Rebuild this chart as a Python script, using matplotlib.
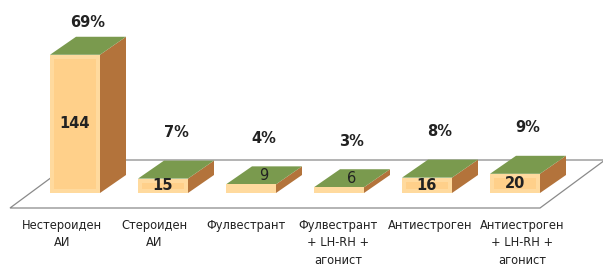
import matplotlib.pyplot as plt
from matplotlib.patches import Polygon

categories = ["Нестероиден\nАИ", "Стероиден\nАИ", "Фулвестрант",
              "Фулвестрант\n+ LH-RH +\nагонист", "Антиестроген",
              "Антиестроген\n+ LH-RH +\nагонист"]
counts = [144, 15, 9, 6, 16, 20]
percents = ["69%", "7%", "4%", "3%", "8%", "9%"]

# pixel scale: 88 px per category, 0.96 px per unit of value
px_x = 88.0
px_y = 0.96
W, H = 603, 269

fig = plt.figure(figsize=(W / 100, H / 100), dpi=100)
ax = fig.add_axes([0, 0, 1, 1])
ax.set_xlim(-75 / px_x, (W - 75) / px_x)
ax.set_ylim(-76 / px_y, (H - 76) / px_y)
ax.axis("off")

bw = 50 / px_x          # bar width
ddx = 26 / px_x         # depth offset
ddy = 18 / px_y

front = "#FFDA9E"
inner = "#FFD08A"
side = "#B3733B"
top = "#7A9A4E"

# floor
fl_front = -15 / px_y
fl_back = 33 / px_y
fl_l = -65 / px_x
fl_r = 465 / px_x
fdx = 65 / px_x
floor = Polygon([(fl_l, fl_front), (fl_r, fl_front), (fl_r + fdx, fl_back),
                 (fl_l + fdx, fl_back)], closed=True, facecolor="white",
                edgecolor="#8a8a8a", lw=0.9, zorder=1)
ax.add_patch(floor)

for i, (v, p, lab) in enumerate(zip(counts, percents, categories)):
    x0 = i - bw / 2
    x1 = i + bw / 2
    # side face
    ax.add_patch(Polygon([(x1, 0), (x1 + ddx, ddy), (x1 + ddx, v + ddy), (x1, v)],
                         closed=True, facecolor=side, edgecolor="none", zorder=2))
    # top face
    ax.add_patch(Polygon([(x0, v), (x1, v), (x1 + ddx, v + ddy), (x0 + ddx, v + ddy)],
                         closed=True, facecolor=top, edgecolor="none", zorder=2))
    # front face
    ax.add_patch(Polygon([(x0, 0), (x1, 0), (x1, v), (x0, v)],
                         closed=True, facecolor=front, edgecolor="none", zorder=3))
    ix = 4 / px_x
    iy = 4 / px_y
    if v * px_y > 10:
        ax.add_patch(Polygon([(x0 + ix, iy), (x1 - ix, iy), (x1 - ix, v - iy), (x0 + ix, v - iy)],
                             closed=True, facecolor=inner, edgecolor="none", zorder=3))

    # value label
    if v >= 12:
        ax.text(i, v / 2, str(v), ha="center", va="center", fontsize=10.5,
                fontweight="bold", color="#222222", zorder=5)
    else:
        ax.text(i + ddx / 2, v + ddy / 2, str(v), ha="center", va="center",
                fontsize=10.5, color="#222222", zorder=5)

    # percent label
    off = 14 if v > 100 else 28
    ax.text(i + ddx / 2, v + ddy + off / px_y, p, ha="center", va="center",
            fontsize=10.5, fontweight="bold", color="#222222", zorder=5)

    # category label
    ax.text(-13 / px_x + i * 92 / px_x, -26 / px_y, lab,
            ha="center", va="top", fontsize=9.2, linespacing=1.45,
            family="DejaVu Sans", fontstretch="condensed", color="#222222")

fig.savefig("out.png", dpi=100)
